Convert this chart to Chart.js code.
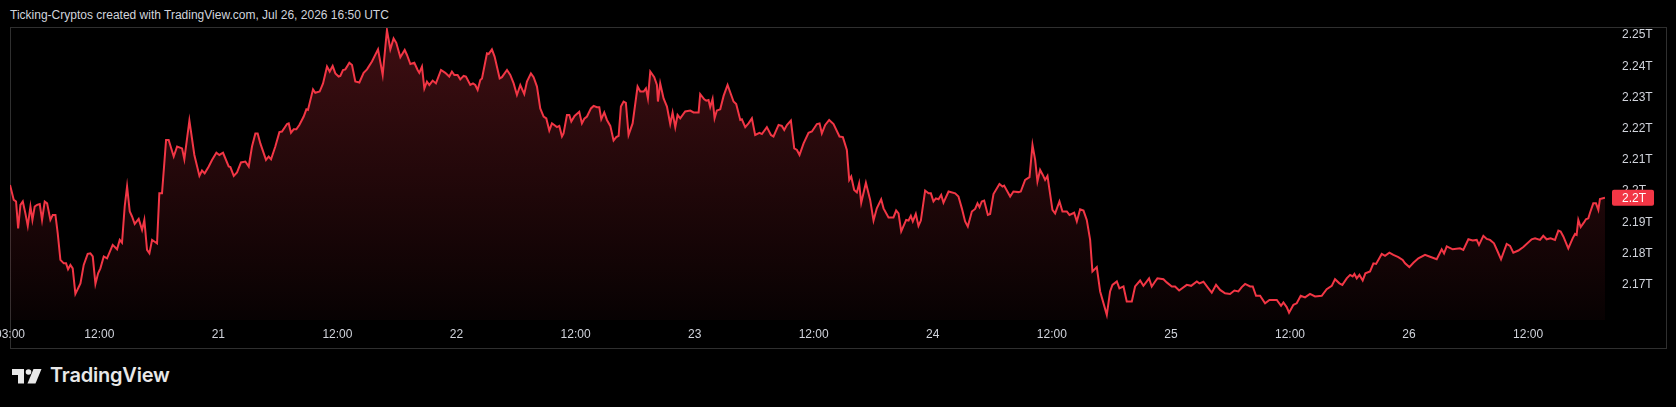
<!DOCTYPE html>
<html>
<head>
<meta charset="utf-8">
<script src="https://cdn.jsdelivr.net/npm/chart.js@4.4.1/dist/chart.umd.min.js"></script>
<style>
  html, body { margin: 0; background: #000; width: 1676px; height: 407px; overflow: hidden; }
  #title { position: absolute; left: 10px; top: 8px; font: 12px "Liberation Sans", Arial, sans-serif; color: #d1d4dc; white-space: nowrap; }
  #frame { position: absolute; left: 10px; top: 27px; width: 1657px; height: 322px; box-sizing: border-box; border: 1px solid #2f2f2f; }
  #wrap { position: absolute; left: 0; top: 28px; width: 1676px; height: 319px; }
  #logo { position: absolute; left: 12px; top: 369px; }
  #brand { position: absolute; left: 50px; top: 363px; font: 600 20px Inter, "Noto Sans", sans-serif; color: #e8e8e8; letter-spacing: -0.2px; }
</style>
</head>
<body>
<div id="title">Ticking-Cryptos created with TradingView.com, Jul 26, 2026 16:50 UTC</div>
<div id="frame"></div>
<div id="wrap"><canvas id="capChart" width="1676" height="319"></canvas></div>
<svg id="logo" width="30" height="15" viewBox="0 0 30 15">
  <path d="M0 0H12V14.5H6V6H0Z" fill="#e8e8e8"/>
  <circle cx="16.5" cy="3" r="2.8" fill="#e8e8e8"/>
  <path d="M21.5 0H29.5L23.5 14.5H15.5Z" fill="#e8e8e8"/>
</svg>
<div id="brand">TradingView</div>
<script>
// x = hours since Jul 20 00:00 (chart time), y = total market cap in trillions
const hours = [
  3.00,3.38,3.61,3.82,4.05,4.29,4.55,4.79,5.06,5.26,5.49,5.73,6.00,6.23,6.50,6.74,7.07,7.31,7.58,7.81,
  8.08,8.42,8.65,8.85,9.09,9.32,9.59,10.10,10.43,10.83,11.10,11.34,11.61,11.88,12.11,12.45,12.78,13.35,13.79,14.06,
  14.29,14.56,14.80,15.07,15.30,15.57,15.97,16.31,16.54,16.81,17.05,17.32,17.55,17.82,18.05,18.32,18.73,18.99,19.50,19.84,
  20.34,20.57,21.08,21.58,22.09,22.35,22.62,23.03,23.36,23.80,24.10,24.47,25.04,25.21,25.55,25.88,26.28,26.72,27.06,27.39,
  27.73,27.96,28.23,28.80,29.07,29.31,29.74,30.15,30.41,30.92,31.09,31.32,31.59,31.86,32.16,32.60,32.87,33.03,33.54,33.77,
  34.21,34.55,34.95,35.22,35.52,35.79,36.12,36.29,36.56,36.80,37.20,37.47,37.80,38.21,38.64,38.98,39.48,40.09,40.56,40.99,
  41.33,41.66,41.93,42.34,
  42.78,43.01,43.35,43.75,44.08,44.25,44.52,44.76,45.02,45.26,45.60,45.93,46.44,46.87,47.27,47.54,47.78,48.11,48.38,48.72,
  48.95,49.39,49.66,49.89,50.13,50.40,50.57,51.07,51.24,51.57,51.84,52.35,52.58,53.09,53.42,53.76,54.09,54.43,54.83,55.10,
  55.50,55.77,56.11,56.44,56.78,57.05,57.35,57.62,57.85,58.12,58.36,58.63,58.79,59.13,59.37,59.57,59.90,60.37,60.64,60.88,
  61.15,61.55,61.82,62.15,62.39,62.59,62.89,63.16,63.50,63.83,64.10,64.34,64.57,64.84,65.07,65.34,65.75,66.25,66.52,66.86,
  67.09,67.29,67.53,67.93,68.20,68.30,68.53,68.87,69.21,69.54,69.78,70.05,70.28,70.55,71.05,71.56,71.89,72.40,72.56,72.97,
  73.17,73.40,73.57,73.81,74.01,74.24,74.58,74.92,75.32,75.92,76.19,76.60,76.76,77.10,77.43,77.77,78.10,78.54,78.78,79.28,
  79.69,79.95,80.46,80.79,81.03,81.30,81.70,82.04,82.31,82.57,82.98,83.48,83.82,84.32,
  84.59,84.82,85.16,85.56,86.00,86.60,86.94,87.34,87.58,87.78,88.08,88.35,88.58,88.79,89.26,89.69,90.03,90.36,90.80,91.04,
  91.54,92.04,92.31,92.55,92.82,93.32,93.56,93.79,93.99,94.29,94.56,94.80,95.23,95.57,95.81,96.07,96.31,96.58,96.85,97.08,
  97.59,98.26,98.59,98.93,99.26,99.53,99.94,100.27,100.51,100.71,100.94,101.18,101.55,101.78,102.12,102.72,103.03,103.19,103.80,104.13,
  104.64,104.87,105.31,105.75,106.05,106.32,106.55,106.82,107.09,107.32,107.56,108.06,108.33,108.77,109.07,109.51,109.78,110.25,110.52,110.85,
  111.19,111.52,111.86,112.09,112.53,112.87,113.54,113.87,114.11,114.55,114.81,115.22,115.55,116.06,116.39,116.90,117.23,117.57,117.80,118.07,
  118.41,118.64,119.25,119.58,120.09,120.42,120.83,121.60,122.04,
  122.61,122.87,123.28,123.78,124.12,124.55,124.96,125.46,125.96,126.40,126.80,127.14,127.48,127.98,128.25,128.58,128.99,129.49,129.93,130.67,
  131.10,131.34,131.67,131.91,132.35,132.68,133.08,133.52,134.02,134.53,135.20,135.70,136.21,136.54,136.98,137.28,137.72,138.06,138.32,138.49,
  138.73,139.00,139.33,139.60,140.07,140.41,140.68,141.25,141.58,142.02,142.42,142.92,143.36,143.60,144.03,144.44,144.94,145.61,146.05,146.79,
  147.29,147.53,147.80,148.40,149.14,149.47,149.98,150.41,150.82,151.05,151.49,151.83,152.16,152.56,152.93,153.27,153.84,154.18,154.51,155.02,
  155.52,156.36,156.70,157.20,157.53,157.87,158.27,158.71,159.05,159.28,159.55,160.05,160.49,160.73,160.89,161.06,161.30,161.63,161.83,162.07,
  162.24,162.57,162.84,163.08,163.24,163.75
];
const values = [
  2.2020,2.1972,2.1967,2.1881,2.1956,2.1967,2.1929,2.1889,2.1951,2.1908,2.1951,2.1956,2.1959,2.1908,2.1967,2.1961,2.1908,2.1924,2.1924,2.1865,
  2.1780,2.1769,2.1769,2.1750,2.1764,2.1753,2.1671,2.1705,2.1764,2.1799,2.1801,2.1791,2.1703,2.1737,2.1753,2.1791,2.1785,2.1828,2.1814,2.1844,
  2.1835,2.1951,2.2015,2.1935,2.1919,2.1895,2.1911,2.1876,2.1908,2.1812,2.1801,2.1844,2.1839,2.1833,2.1993,2.1993,2.2164,2.2164,2.2111,2.2143,
  2.2137,2.2102,2.2226,2.2116,2.2049,2.2066,2.2057,2.2079,2.2100,2.2123,2.2116,2.2123,2.2079,2.2077,2.2049,2.2060,2.2092,2.2095,2.2079,2.2143,
  2.2185,2.2185,2.2153,2.2100,2.2111,2.2102,2.2143,2.2189,2.2191,2.2215,2.2217,2.2187,2.2198,2.2198,2.2212,2.2239,2.2262,2.2260,2.2326,2.2315,
  2.2319,2.2345,2.2399,2.2383,2.2401,2.2377,2.2367,2.2369,2.2388,2.2390,2.2411,2.2404,2.2351,2.2348,2.2379,2.2390,2.2415,2.2454,2.2372,2.2516,
  2.2454,2.2489,2.2475,2.2429,
  2.2452,2.2436,2.2407,2.2411,2.2388,2.2379,2.2399,2.2329,2.2351,2.2340,2.2354,2.2345,2.2388,2.2379,2.2367,2.2383,2.2372,2.2372,2.2358,2.2369,
  2.2367,2.2340,2.2345,2.2340,2.2324,2.2356,2.2361,2.2441,2.2439,2.2454,2.2431,2.2361,2.2365,2.2388,2.2372,2.2345,2.2308,2.2340,2.2311,2.2351,
  2.2377,2.2365,2.2335,2.2265,2.2239,2.2233,2.2194,2.2217,2.2212,2.2205,2.2209,2.2175,2.2185,2.2244,2.2244,2.2223,2.2241,2.2254,2.2217,2.2232,
  2.2239,2.2265,2.2273,2.2269,2.2269,2.2230,2.2252,2.2228,2.2209,2.2162,2.2173,2.2177,2.2271,2.2287,2.2283,2.2180,2.2217,2.2335,2.2319,2.2319,
  2.2329,2.2297,2.2383,2.2365,2.2340,2.2287,2.2345,2.2297,2.2271,2.2215,2.2252,2.2205,2.2244,2.2233,2.2255,2.2258,2.2252,2.2252,2.2311,2.2294,
  2.2290,2.2292,2.2269,2.2295,2.2233,2.2258,2.2262,2.2305,2.2340,2.2287,2.2279,2.2228,2.2230,2.2205,2.2217,2.2233,2.2180,2.2187,2.2183,2.2205,
  2.2180,2.2175,2.2212,2.2209,2.2196,2.2212,2.2226,2.2137,2.2132,2.2116,2.2153,2.2187,2.2191,2.2215,
  2.2217,2.2185,2.2212,2.2228,2.2215,2.2175,2.2173,2.2132,2.2036,2.2047,2.2004,2.1996,2.2025,2.1963,2.2027,2.1972,2.1906,2.1945,2.1974,2.1945,
  2.1916,2.1916,2.1938,2.1929,2.1871,2.1908,2.1906,2.1921,2.1903,2.1927,2.1889,2.1906,2.2002,2.1993,2.1993,2.1967,2.1977,2.1974,2.1988,2.1963,
  2.1999,2.1993,2.1983,2.1945,2.1903,2.1887,2.1935,2.1943,2.1961,2.1949,2.1967,2.1970,2.1924,2.1927,2.1991,2.2023,2.2015,2.2018,2.1983,2.1999,
  2.1997,2.1999,2.2036,2.2045,2.2148,2.2100,2.2031,2.2068,2.2052,2.2036,2.2049,2.1940,2.1929,2.1967,2.1935,2.1935,2.1924,2.1931,2.1903,2.1942,
  2.1938,2.1908,2.1844,2.1743,2.1757,2.1679,2.1604,2.1679,2.1700,2.1711,2.1689,2.1695,2.1647,2.1647,2.1695,2.1714,2.1697,2.1711,2.1721,2.1695,
  2.1711,2.1721,2.1718,2.1708,2.1695,2.1695,2.1682,2.1700,2.1697,
  2.1711,2.1705,2.1710,2.1689,2.1675,2.1700,2.1684,2.1673,2.1671,2.1682,2.1679,2.1693,2.1703,2.1695,2.1695,2.1665,2.1665,2.1641,2.1652,2.1652,
  2.1633,2.1644,2.1629,2.1611,2.1636,2.1641,2.1665,2.1660,2.1671,2.1663,2.1665,2.1686,2.1697,2.1718,2.1705,2.1700,2.1721,2.1732,2.1727,2.1735,
  2.1721,2.1732,2.1714,2.1737,2.1743,2.1769,2.1767,2.1799,2.1793,2.1803,2.1796,2.1789,2.1780,2.1769,2.1757,2.1771,2.1785,2.1796,2.1791,2.1782,
  2.1814,2.1801,2.1823,2.1814,2.1817,2.1812,2.1846,2.1842,2.1844,2.1828,2.1857,2.1847,2.1844,2.1833,2.1807,2.1782,2.1831,2.1825,2.1803,2.1810,
  2.1821,2.1846,2.1849,2.1844,2.1857,2.1846,2.1849,2.1844,2.1874,2.1871,2.1855,2.1817,2.1849,2.1863,2.1860,2.1908,2.1885,2.1900,2.1910,2.1913,
  2.1931,2.1961,2.1961,2.1940,2.1975,2.1979
];

const xTickHours = [3, 12, 24, 36, 48, 60, 72, 84, 96, 108, 120, 132, 144, 156];
const xTickLabels = ['03:00', '12:00', '21', '12:00', '22', '12:00', '23', '12:00', '24', '12:00', '25', '12:00', '26', '12:00'];
const yTicks = [2.17, 2.18, 2.19, 2.20, 2.21, 2.22, 2.23, 2.24, 2.25];

const red = '#f23645';
const textColor = '#d1d4dc';
const fmtT = v => (+v.toFixed(2)) + 'T';

// red price tag on the price axis for the last value
const lastValueTag = {
    id: 'lastValueTag',
    afterDraw(chart) {
        const ys = chart.scales.y;
        const last = values[values.length - 1];
        const y = ys.getPixelForValue(last);
        const c = chart.ctx;
        const txt = fmtT(last);
        c.save();
        c.font = '12px "Liberation Sans", Arial, sans-serif';
        const w = c.measureText(txt).width + 18;
        c.fillStyle = red;
        c.beginPath();
        c.roundRect(ys.left + 7, y - 8, w, 16, 2);
        c.fill();
        c.fillStyle = '#ffffff';
        c.textBaseline = 'middle';
        c.fillText(txt, ys.left + 17, y + 0.5);
        c.restore();
    }
};

const ctx = document.getElementById('capChart').getContext('2d');
const capChart = new Chart(ctx, {
    type: 'line',
    data: {
        datasets: [{
            data: hours.map((h, i) => ({ x: h, y: values[i] })),
            borderColor: red,
            borderWidth: 2,
            pointRadius: 0,
            tension: 0,
            fill: 'start',
            backgroundColor: (context) => {
                const area = context.chart.chartArea;
                if (!area) return 'rgba(242,54,69,0.15)';
                const g = context.chart.ctx.createLinearGradient(0, area.top, 0, area.bottom);
                g.addColorStop(0, 'rgba(242,54,69,0.26)');
                g.addColorStop(1, 'rgba(242,54,69,0.03)');
                return g;
            }
        }]
    },
    options: {
        responsive: false,
        animation: false,
        layout: { padding: { left: 10, top: 0, right: 0, bottom: 0 } },
        plugins: {
            legend: { display: false },
            tooltip: { enabled: false }
        },
        scales: {
            x: {
                type: 'linear',
                min: 3,
                max: 163.75,
                grid: { display: false, drawTicks: false },
                border: { display: false },
                ticks: {
                    color: textColor,
                    font: { family: '"Liberation Sans", Arial, sans-serif', size: 12 },
                    padding: 7,
                    maxRotation: 0,
                    autoSkip: false,
                    callback: (v, i) => xTickLabels[i] ?? ''
                },
                afterBuildTicks: (s) => { s.ticks = xTickHours.map(v => ({ value: v })); },
                afterFit: (s) => { s.height = 27; s.paddingLeft = 0; s.paddingRight = 0; }
            },
            y: {
                type: 'linear',
                position: 'right',
                min: 2.15876,
                max: 2.25224,
                grid: { display: false, drawTicks: false },
                border: { display: false },
                ticks: {
                    color: textColor,
                    font: { family: '"Liberation Sans", Arial, sans-serif', size: 12 },
                    padding: 17,
                    callback: (v) => fmtT(v)
                },
                afterBuildTicks: (s) => { s.ticks = yTicks.map(v => ({ value: v })); },
                afterFit: (s) => { s.width = 71; s.paddingTop = 0; s.paddingBottom = 0; }
            }
        }
    },
    plugins: [lastValueTag]
});
</script>
</body>
</html>
